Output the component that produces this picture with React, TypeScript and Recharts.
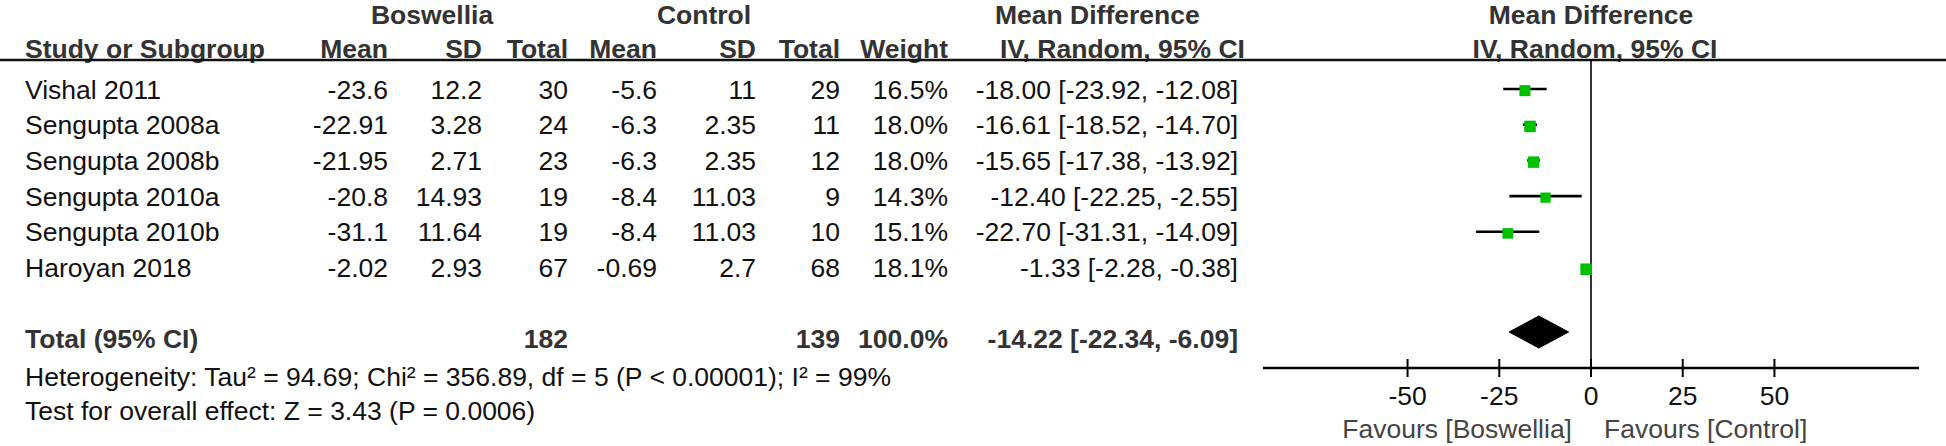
import React from 'react';
import { ComposedChart, Scatter, XAxis, YAxis, ReferenceLine, ErrorBar } from 'recharts';

// ---------- data ----------
const studies = ['Vishal 2011', 'Sengupta 2008a', 'Sengupta 2008b', 'Sengupta 2010a', 'Sengupta 2010b', 'Haroyan 2018'];
const boswelliaMean = [-23.6, -22.91, -21.95, -20.8, -31.1, -2.02];
const boswelliaSD = [12.2, 3.28, 2.71, 14.93, 11.64, 2.93];
const boswelliaTotal = [30, 24, 23, 19, 19, 67];
const controlMean = [-5.6, -6.3, -6.3, -8.4, -8.4, -0.69];
const controlSD = [11, 2.35, 2.35, 11.03, 11.03, 2.7];
const controlTotal = [29, 11, 12, 9, 10, 68];
const weights = [16.5, 18.0, 18.0, 14.3, 15.1, 18.1];
const meanDiff = [-18.0, -16.61, -15.65, -12.4, -22.7, -1.33];
const ciLow = [-23.92, -18.52, -17.38, -22.25, -31.31, -2.28];
const ciHigh = [-12.08, -14.7, -13.92, -2.55, -14.09, -0.38];
const pooledTotals = [182, 139];
const pooledWeight = [100.0];
const pooledEstimate = [-14.22, -22.34, -6.09]; // estimate, low, high
const heterogeneityText = 'Heterogeneity: Tau\u00B2 = 94.69; Chi\u00B2 = 356.89, df = 5 (P < 0.00001); I\u00B2 = 99%';
const overallText = 'Test for overall effect: Z = 3.43 (P = 0.0006)';
const xTicks = [-50, -25, 0, 25, 50];
const xDomain = [-89.4, 89.4];

// ---------- layout ----------
const W = 1946;
const H = 446;
const FONT = '"Liberation Sans", Arial, Helvetica, sans-serif';
const FS = 26.5;
const PLOT_L = 1263;
const PLOT_R = 1919;
const PLOT_T = 60;
const PLOT_B = 368;
const ROW0 = 89;
const ROW_H = 35.7;
const rowCenter = (i: number) => ROW0 + ROW_H * i;
const yDomain = [(PLOT_T - ROW0) / ROW_H, (PLOT_B - ROW0) / ROW_H];
const DIAMOND_Y = (332 - ROW0) / ROW_H;
const DIAMOND_HALF = 16 / ROW_H;

const COL = {
  name: 25,
  bMean: 388,
  bSD: 482,
  bTotal: 568,
  cMean: 657,
  cSD: 756,
  cTotal: 840,
  weight: 948,
  ci: 1238,
};

const fmt2 = (v: number) => v.toFixed(2);

const studyPoints = studies.map((name, i) => ({
  name,
  x: meanDiff[i],
  y: i,
  err: [meanDiff[i] - ciLow[i], ciHigh[i] - meanDiff[i]],
  w: weights[i],
}));

const diamondPoints = [
  { x: pooledEstimate[1], y: DIAMOND_Y },
  { x: pooledEstimate[0], y: DIAMOND_Y - DIAMOND_HALF },
  { x: pooledEstimate[2], y: DIAMOND_Y },
  { x: pooledEstimate[0], y: DIAMOND_Y + DIAMOND_HALF },
];

// ---------- pieces ----------
const T = (p: { x: number; y: number; a?: 'start' | 'middle' | 'end'; b?: boolean; fill?: string; children: React.ReactNode }) => (
  <text
    x={p.x}
    y={p.y}
    textAnchor={p.a || 'start'}
    fontFamily={FONT}
    fontSize={FS}
    fontWeight={p.b ? 'bold' : 'normal'}
    fill={p.fill || (p.b ? '#333' : '#111')}
  >
    {p.children}
  </text>
);

const Square = (props: any) => {
  const { cx, cy, payload } = props;
  const s = 11.5 * Math.sqrt(payload.w / 18);
  return <rect x={cx - s / 2} y={cy - s * 0.35} width={s} height={s} fill="#00C000" />;
};

const Nothing = () => <g />;

const DiamondLine = (props: any) => {
  const pts = (props.points || []).map((pt: any) => `${pt.x ?? pt.cx},${pt.y ?? pt.cy}`).join(' ');
  return <polygon points={pts} fill="#000" stroke="#000" strokeWidth={1} />;
};

const Tick = (props: any) => {
  const { x, y, payload } = props;
  return (
    <g>
      <line x1={x} x2={x} y1={y - 9} y2={y + 9} stroke="#000" strokeWidth={2} />
      <text x={x} y={y + 37} textAnchor="middle" fontFamily={FONT} fontSize={FS} fill="#111">
        {payload.value}
      </text>
    </g>
  );
};

const Table = () => {
  const h1 = 24;
  const h2 = 58;
  const base = (i: number) => rowCenter(i) + 9.5;
  return (
    <svg width={W} height={H} style={{ position: 'absolute', left: 0, top: 0 }}>
      <T x={432} y={h1} a="middle" b>Boswellia</T>
      <T x={704} y={h1} a="middle" b>Control</T>
      <T x={995} y={h1} b>Mean Difference</T>
      <T x={1591} y={h1} a="middle" b>Mean Difference</T>

      <T x={COL.name} y={h2} b>Study or Subgroup</T>
      <T x={COL.bMean} y={h2} a="end" b>Mean</T>
      <T x={COL.bSD} y={h2} a="end" b>SD</T>
      <T x={COL.bTotal} y={h2} a="end" b>Total</T>
      <T x={COL.cMean} y={h2} a="end" b>Mean</T>
      <T x={COL.cSD} y={h2} a="end" b>SD</T>
      <T x={COL.cTotal} y={h2} a="end" b>Total</T>
      <T x={COL.weight} y={h2} a="end" b>Weight</T>
      <T x={1000} y={h2} b>IV, Random, 95% CI</T>
      <T x={1595} y={h2} a="middle" b>IV, Random, 95% CI</T>

      <line x1={0} x2={W} y1={PLOT_T} y2={PLOT_T} stroke="#111" strokeWidth={2.6} />

      {studies.map((s, i) => (
        <g key={s}>
          <T x={COL.name} y={base(i)}>{s}</T>
          <T x={COL.bMean} y={base(i)} a="end">{String(boswelliaMean[i])}</T>
          <T x={COL.bSD} y={base(i)} a="end">{String(boswelliaSD[i])}</T>
          <T x={COL.bTotal} y={base(i)} a="end">{String(boswelliaTotal[i])}</T>
          <T x={COL.cMean} y={base(i)} a="end">{String(controlMean[i])}</T>
          <T x={COL.cSD} y={base(i)} a="end">{String(controlSD[i])}</T>
          <T x={COL.cTotal} y={base(i)} a="end">{String(controlTotal[i])}</T>
          <T x={COL.weight} y={base(i)} a="end">{weights[i].toFixed(1) + '%'}</T>
          <T x={COL.ci} y={base(i)} a="end">
            {`${fmt2(meanDiff[i])} [${fmt2(ciLow[i])}, ${fmt2(ciHigh[i])}]`}
          </T>
        </g>
      ))}

      <T x={COL.name} y={348} b>Total (95% CI)</T>
      <T x={COL.bTotal} y={348} a="end" b>{String(pooledTotals[0])}</T>
      <T x={COL.cTotal} y={348} a="end" b>{String(pooledTotals[1])}</T>
      <T x={COL.weight} y={348} a="end" b>{pooledWeight[0].toFixed(1) + '%'}</T>
      <T x={COL.ci} y={348} a="end" b>
        {`${fmt2(pooledEstimate[0])} [${fmt2(pooledEstimate[1])}, ${fmt2(pooledEstimate[2])}]`}
      </T>

      <T x={COL.name} y={386}>{heterogeneityText}</T>
      <T x={COL.name} y={420}>{overallText}</T>

      <T x={1572} y={438} a="end" fill="#444">Favours [Boswellia]</T>
      <T x={1604} y={438} fill="#444">Favours [Control]</T>
    </svg>
  );
};

export default function App() {
  return (
    <div style={{ position: 'absolute', left: 0, top: 0, width: W, height: H, background: '#fff' }}>
      <Table />
      <div style={{ position: 'absolute', left: 0, top: 0 }}>
        <ComposedChart
          width={W}
          height={H}
          margin={{ top: PLOT_T, right: W - PLOT_R, left: PLOT_L, bottom: 0 }}
        >
          <XAxis
            type="number"
            dataKey="x"
            domain={xDomain}
            ticks={xTicks}
            interval={0}
            allowDataOverflow
            height={H - PLOT_B}
            axisLine={{ stroke: '#000', strokeWidth: 2.6 }}
            tickLine={false}
            tickSize={0}
            tickMargin={0}
            tick={<Tick />}
          />
          <YAxis type="number" dataKey="y" domain={yDomain} reversed hide allowDataOverflow width={0} />
          <ReferenceLine x={0} stroke="#000" strokeWidth={1.6} />
          <Scatter data={studyPoints} shape={<Square />} isAnimationActive={false}>
            <ErrorBar dataKey="err" direction="x" width={0} stroke="#000" strokeWidth={2.6} />
          </Scatter>
          <Scatter data={diamondPoints} shape={<Nothing />} line={DiamondLine} isAnimationActive={false} />
        </ComposedChart>
      </div>
    </div>
  );
}
